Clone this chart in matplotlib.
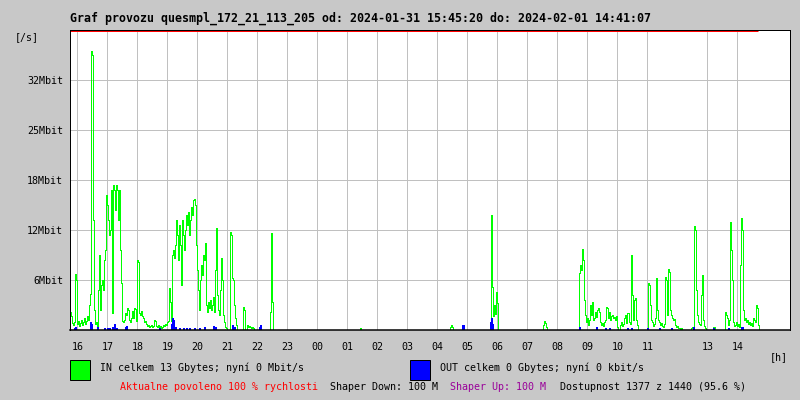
import numpy as np
import matplotlib
matplotlib.use('Agg')
import matplotlib.pyplot as plt
from matplotlib.patches import Rectangle
from matplotlib.transforms import offset_copy

title = 'Graf provozu quesmpl_172_21_113_205 od: 2024-01-31 15:45:20 do: 2024-02-01 14:41:07'
t_from = '15:45:20'
t_to = '14:41:07'

hour_labels = ['16', '17', '18', '19', '20', '21', '22', '23', '00', '01', '02', '03',
               '04', '05', '06', '07', '08', '09', '10', '11', '13', '14']
y_ticks = [6.4, 12.8, 19.2, 25.6, 32.0]
y_labels = ['6Mbit', '12Mbit', '18Mbit', '25Mbit', '32Mbit']
y_max = 38.4

# IN traffic in Mbit/s, one sample every 2 minutes, grouped in bursts
in_evening_start = '15:45:20'
in_evening = [
    2.3, 1.8, 0.9, 0.6, 1.0, 7.2, 6.4, 0.8, 1.2, 0.5,
    0.9, 1.3, 0.6, 1.0, 1.5, 0.8, 1.2, 1.8, 1.3, 3.2,
    4.6, 35.7, 35.2, 14.1, 2.6, 0.8, 1.0, 0.5, 5.1, 9.6,
    2.6, 5.8, 6.4, 5.1, 9.0, 10.2, 17.3, 16.0, 14.1, 12.2,
    12.8, 17.9, 2.2, 18.6, 17.9, 15.4, 18.6, 17.9, 14.1, 17.9,
    10.2, 6.0, 1.2, 1.0, 1.3, 2.2, 1.9, 2.8, 2.6, 1.3,
    1.0, 1.5, 2.4, 1.5, 2.8, 2.7, 1.2, 9.0, 8.7, 2.2,
    1.9, 2.4, 1.8, 1.5, 1.0, 1.2, 0.8, 0.5, 0.6, 0.4,
    0.5, 0.6, 0.4, 0.5, 1.3, 1.2, 0.5, 0.4, 0.6, 0.4,
    0.5, 0.3, 0.4, 0.6, 0.5, 0.8, 0.6, 1.0, 1.2, 5.4,
    3.6, 1.2, 9.6, 10.2, 9.2, 10.9, 14.1, 12.2, 9.0, 13.4,
    10.9, 5.8, 14.1, 12.2, 10.2, 12.8, 14.7, 13.4, 15.1, 12.2,
    14.1, 15.7, 14.7, 16.6, 16.8, 16.0, 10.9, 7.7, 5.1, 2.6,
    6.4, 8.3, 7.0, 9.6, 9.0, 11.1, 3.2, 2.3, 3.6, 2.8,
    3.8, 2.6, 3.2, 4.2, 2.3, 7.7, 13.1, 4.5, 2.6, 1.9,
    5.1, 9.2, 6.4, 1.9, 1.0, 0.4, 0.3, 0, 0, 0,
    12.5, 12.2, 6.7, 6.4, 3.2, 1.5, 0.6, 0, 0, 0,
    0, 0, 0, 2.9, 2.6, 0, 0, 0.6, 0.4, 0.5,
    0.4, 0.3, 0.4, 0.3, 0, 0, 0, 0, 0, 0,
    0, 0, 0, 0, 0, 0, 0, 0, 0, 0,
    2.3, 12.4, 3.6,
]
in_night_start = '01:25'
in_night = [0.2]
in_0425_start = '04:25'
in_0425 = [0.4, 0.6, 0.4]
in_0547_start = '05:47'
in_0547 = [14.7, 5.5, 1.8, 3.2, 2.0, 4.9, 3.5]
in_0731_start = '07:31'
in_0731 = [0.6, 1.2, 0.9, 0.4]
in_day_start = '08:43'
in_day = [
    7.3, 8.3, 7.7, 10.4, 9.0, 3.8, 1.9, 1.0, 1.5, 0.6,
    1.3, 3.2, 1.9, 3.6, 1.3, 1.5, 2.3, 1.7, 2.6, 2.8,
    2.3, 1.0, 0.6, 0.9, 0.5, 1.0, 1.3, 2.9, 2.8, 1.5,
    2.3, 1.3, 1.8, 1.9, 1.5, 1.7, 1.3, 1.8, 0.4, 0,
    0, 0.6, 1.0, 0.5, 0.8, 1.5, 1.9, 0.9, 2.2, 2.2,
    1.0, 0.8, 9.6, 4.5, 1.3, 3.8, 4.1, 1.3, 0.6, 0,
    0, 0, 0, 0, 0, 0, 0, 0, 0, 6.0,
    5.8, 3.2, 1.3, 1.0, 0.5, 0.8, 1.5, 6.7, 2.6, 1.3,
    1.0, 0.6, 0.9, 0.5, 0.4, 0.8, 6.8, 6.4, 1.9, 7.8,
    7.4, 2.6, 1.9, 1.5, 1.3, 1.4, 0.6, 0.4, 0.5, 0.3,
    0.3, 0.1, 0.3, 0, 0, 0, 0, 0, 0, 0,
    0, 0, 0.3, 0.4, 0.3, 13.3, 12.8, 5.1, 1.9, 1.0,
    0.8, 0.6, 4.5, 7.0, 1.3, 0.5, 0.3, 0, 0, 0,
    0, 0, 0, 0, 0.4, 0.4, 0, 0, 0, 0,
    0, 0, 0, 0, 0, 0, 2.3, 1.9, 1.5, 0.6,
    1.3, 13.8, 10.2, 6.4, 1.0, 0.5, 0.6, 1.0, 0.5, 0.8,
    0.4, 8.3, 14.3, 12.8, 2.6, 1.3, 1.5, 1.0, 1.3, 0.8,
    1.0, 0.6, 0.9, 0.5, 1.5, 1.3, 1.0, 3.2, 2.8, 0.6,
]

# OUT traffic, only the samples that rise above zero
out_times = ['15:55', '15:57', '16:27', '16:29', '16:41', '16:55', '17:01', '17:05',
             '17:11', '17:15', '17:19', '17:37', '17:39', '18:45', '19:09', '19:11',
             '19:13', '19:17', '19:25', '19:33', '19:39', '19:45', '19:55', '20:05',
             '20:15', '20:33', '20:37', '21:11', '21:15', '22:05', '22:07', '04:51',
             '04:53', '05:47', '05:49', '05:51', '08:45', '09:19', '09:37', '09:45',
             '10:21', '10:29', '11:01', '11:25', '11:49', '12:33', '13:13', '13:43',
             '14:09', '14:11']
out_mbit = [0.26, 0.38, 1.0, 0.77, 0.38, 0.26, 0.26, 0.26,
            0.38, 0.77, 0.26, 0.38, 0.5, 0.26, 0.77, 1.5,
            1.3, 0.38, 0.26, 0.26, 0.26, 0.26, 0.26, 0.26,
            0.38, 0.5, 0.38, 0.64, 0.38, 0.38, 0.64, 0.64,
            0.64, 1.0, 1.5, 0.77, 0.38, 0.38, 0.26, 0.26,
            0.26, 0.26, 0.26, 0.26, 0.26, 0.38, 0.26, 0.26,
            0.38, 0.38]

legend_in = 'IN celkem 13 Gbytes; nyní 0 Mbit/s'
legend_out = 'OUT celkem 0 Gbytes; nyní 0 kbit/s'
allowed = 'Aktualne povoleno 100 % rychlosti'
shaper_down = 'Shaper Down: 100 M'
shaper_up = 'Shaper Up: 100 M'
availability = 'Dostupnost 1377 z 1440 (95.6 %)'

W, H = 800, 400
BG = '#c8c8c8'
GRID = '#c0c0c0'
MONO = 'DejaVu Sans Mono'
STEP = 1 / 30  # 2 minutes in hours
PX = 0.72      # one pixel in points


def to_hours(clock):
    parts = [int(p) for p in clock.split(':')]
    h = parts[0] + parts[1] / 60 + (parts[2] / 3600 if len(parts) > 2 else 0)
    return h + 24 if h < 15 else h


def px(x, y):
    return x / W, 1 - y / H


fig = plt.figure(figsize=(W / 100, H / 100), dpi=100, facecolor=BG)
ax = fig.add_axes([70 / W, 70 / H, 720 / W, 300 / H])
ax.set_facecolor('white')

x0 = to_hours(t_from)
ax.set_xlim(x0, x0 + 24)
ax.set_ylim(0, y_max)

hour_pos = [int(l) + 24 if int(l) < 15 else int(l) for l in hour_labels]
ax.set_xticks(hour_pos, hour_labels)
ax.set_yticks(y_ticks, y_labels)
ax.tick_params(axis='x', length=0, pad=9, labelsize=7.2)
ax.tick_params(axis='y', length=0, pad=5, labelsize=7.2)
for lab in ax.get_xticklabels() + ax.get_yticklabels():
    lab.set_family(MONO)
ax.grid(True, color=GRID, lw=PX)
ax.set_axisbelow(True)

for sp in ax.spines.values():
    sp.set_color('black')
    sp.set_linewidth(PX)
ax.spines['bottom'].set_linewidth(1.5 * PX)

# allowed-speed line just under the top border
red_tr = offset_copy(ax.transData, fig=fig, y=-1, units='dots')
ax.plot([x0, to_hours(t_to)], [y_max, y_max], color='red', lw=PX,
        transform=red_tr, solid_capstyle='butt')

bursts = [(in_evening_start, in_evening), (in_night_start, in_night),
          (in_0425_start, in_0425), (in_0547_start, in_0547),
          (in_0731_start, in_0731), (in_day_start, in_day)]
for start, vals in bursts:
    edges = to_hours(start) + np.arange(len(vals) + 1) * STEP
    ax.stairs(vals, edges, baseline=0, color='#00ff00', lw=PX, antialiased=False)

out_t = np.array([to_hours(t) for t in out_times]) + STEP / 2
ax.vlines(out_t, 0, out_mbit, color='#0000ff', lw=1.5 * PX, antialiased=False)

fig.text(*px(70, 18), title, family=MONO, weight='bold', fontsize=8.4, va='center')
fig.text(*px(15, 37), '[/s]', family=MONO, fontsize=7.2, va='center')
fig.text(*px(770, 357), '[h]', family=MONO, fontsize=7.2, va='center')

fig.patches.append(Rectangle(px(70, 380), 20 / W, 20 / H, transform=fig.transFigure,
                             fc='#00ff00', ec='black', lw=PX))
fig.patches.append(Rectangle(px(410, 380), 20 / W, 20 / H, transform=fig.transFigure,
                             fc='#0000ff', ec='black', lw=PX))
fig.text(*px(100, 368), legend_in, family=MONO, fontsize=7.2, va='center')
fig.text(*px(440, 368), legend_out, family=MONO, fontsize=7.2, va='center')

fig.text(*px(120, 387), allowed, family=MONO, fontsize=7.2, va='center', color='red')
fig.text(*px(330, 387), shaper_down, family=MONO, fontsize=7.2, va='center')
fig.text(*px(450, 387), shaper_up, family=MONO, fontsize=7.2, va='center', color='#990099')
fig.text(*px(560, 387), availability, family=MONO, fontsize=7.2, va='center')

fig.savefig('out.png', dpi=100, facecolor=BG)
